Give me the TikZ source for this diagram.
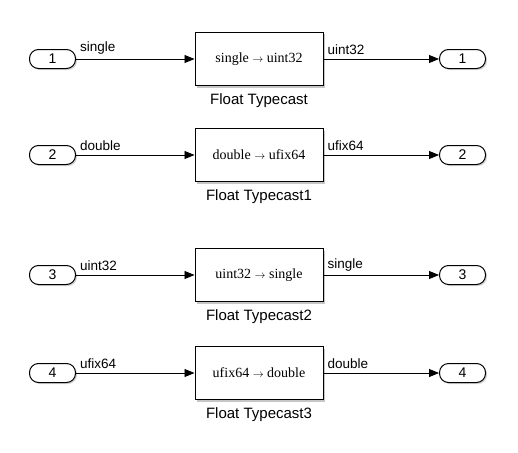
\documentclass[tikz,border=0pt]{standalone}
\usepackage{fontspec}
\setmainfont{Liberation Sans}
\newfontfamily\blkfont{Liberation Serif}
\usetikzlibrary{arrows.meta,shadows}
\tikzset{
  port/.style={draw, line width=1pt, rounded corners=9pt, minimum width=46pt, minimum height=19pt, inner sep=0pt, fill=white, font=\fontsize{14}{16}\selectfont, drop shadow={shadow xshift=1.5pt, shadow yshift=-1.5pt, opacity=0.35}},
  blk/.style={draw, line width=1pt, minimum width=128pt, minimum height=53pt, inner sep=0pt, fill=white, font=\blkfont\fontsize{14}{16}\selectfont, drop shadow={shadow xshift=2pt, shadow yshift=-2pt, opacity=0.45}},
  sig/.style={line width=0.8pt, -{Triangle[length=10pt,width=8pt]}},
  siglab/.style={anchor=south west, inner sep=0pt, font=\fontsize{13.5}{15}\selectfont},
  blab/.style={anchor=north, inner sep=0pt, font=\fontsize{15}{17}\selectfont}
}
\begin{document}
\begin{tikzpicture}[x=1pt,y=-1pt]
\useasboundingbox (0,0) rectangle (518,452);
\foreach \i/\y/\a/\b/\n in {1/59/single/uint32/,2/155/double/ufix64/1,3/275/uint32/single/2,4/373/ufix64/double/3}{
  \node[port] (in\i) at (52.5,\y) {\i};
  \node[blk] (b\i) at (259,\y) {\a\ {\fontsize{11}{12}\selectfont$\rightarrow$} \b};
  \node[port] (out\i) at (462.5,\y) {\i};
  \node[blab] (lab\i) at ([yshift=-7pt]b\i.south) {Float Typecast\n};
  \draw[sig] (in\i) -- (b\i);
  \draw[sig] (b\i) -- (out\i);
  \node[siglab] (la\i) at ([xshift=4pt,yshift=4pt]in\i.east) {\a};
  \node[siglab] (lb\i) at ([xshift=4pt,yshift=4pt]b\i.east) {\b};
}
\end{tikzpicture}
\end{document}
